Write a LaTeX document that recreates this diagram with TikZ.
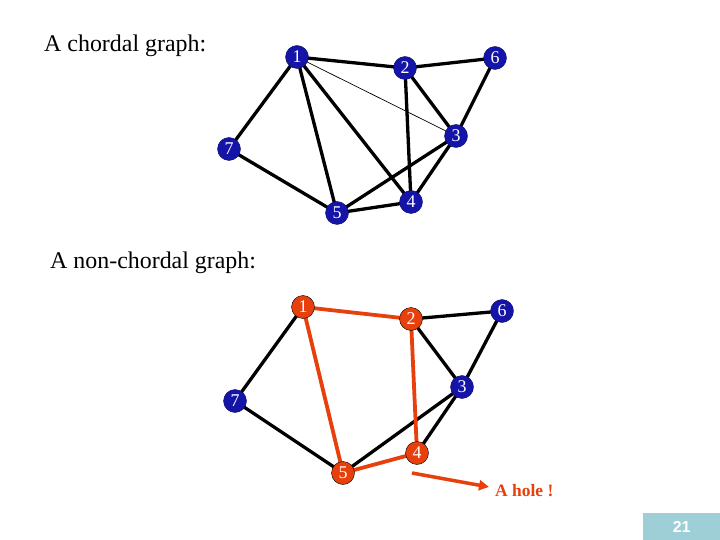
\documentclass[tikz,border=0pt]{standalone}
\usepackage{fontspec}
\setmainfont{Liberation Serif}
\newfontfamily\numfont{Liberation Sans}
\usetikzlibrary{arrows.meta}
\definecolor{nodeblue}{HTML}{1414A8}
\definecolor{holered}{HTML}{E8400C}
\definecolor{pagebox}{HTML}{9FCFD6}
\tikzset{
  vtx/.style={circle,fill=nodeblue,draw=nodeblue!60!black,line width=0.4pt,minimum size=23bp,inner sep=0pt,text=white,font=\fontsize{18}{18}\selectfont},
  rvtx/.style={vtx,fill=holered,draw=black},
  edge/.style={line width=3.3bp,black},
  redge/.style={line width=3.8bp,holered},
  thinedge/.style={line width=0.7bp,black},
  title/.style={anchor=base west,font=\fontsize{24}{24}\selectfont,inner sep=0pt}
}
\begin{document}
\begin{tikzpicture}[x=1bp,y=-1bp]
\useasboundingbox (0,0) rectangle (720,540);
\node[title] (t1) at (44,52) {A chordal graph:};
\node[title] (t2) at (50,269) {A non-chordal graph:};
% top graph
\coordinate (a1) at (297,57);
\coordinate (a2) at (405,68);
\coordinate (a6) at (495,58);
\coordinate (a3) at (456,136);
\coordinate (a7) at (229,149);
\coordinate (a4) at (411,202);
\coordinate (a5) at (337,213);
\draw[thinedge] (a1) -- (a3);
\draw[edge] (a1) -- (a2) (a2) -- (a6) (a1) -- (a7) (a1) -- (a5) (a1) -- (a4)
  (a2) -- (a4) (a2) -- (a3) (a6) -- (a3) (a3) -- (a5) (a3) -- (a4) (a7) -- (a5) (a5) -- (a4);
\foreach \n in {1,2,3,4,5,6,7} \node[vtx] (v\n) at (a\n) {\n};
% bottom graph
\coordinate (b1) at (303,307);
\coordinate (b2) at (411,319);
\coordinate (b6) at (502,311);
\coordinate (b3) at (462,387);
\coordinate (b7) at (235,401);
\coordinate (b4) at (417,453);
\coordinate (b5) at (343,473);
\draw[edge] (b2) -- (b6) (b1) -- (b7) (b2) -- (b3) (b6) -- (b3) (b3) -- (b5) (b3) -- (b4) (b7) -- (b5);
\draw[redge] (b1) -- (b2) (b1) -- (b5) (b2) -- (b4) (b5) -- (b4);
\foreach \n in {3,6,7} \node[vtx] (w\n) at (b\n) {\n};
\foreach \n in {1,2,4,5} \node[rvtx] (w\n) at (b\n) {\n};
% arrow and label
\coordinate (arrs) at (412,473);
\node[anchor=base west,text=holered,font=\fontsize{17.5}{17.5}\selectfont\bfseries,inner sep=0pt] (hole) at (495,496) {A hole !};
\draw[holered,line width=3.5bp,-{Triangle[length=10bp,width=10bp]}] (arrs) -- (489,487);
% page number
\node[fill=pagebox,minimum width=77bp,minimum height=27bp,inner sep=0pt,anchor=north west,text=white,font=\numfont\bfseries\fontsize{16}{16}\selectfont] (pg) at (643,513) {21};
\end{tikzpicture}
\end{document}
